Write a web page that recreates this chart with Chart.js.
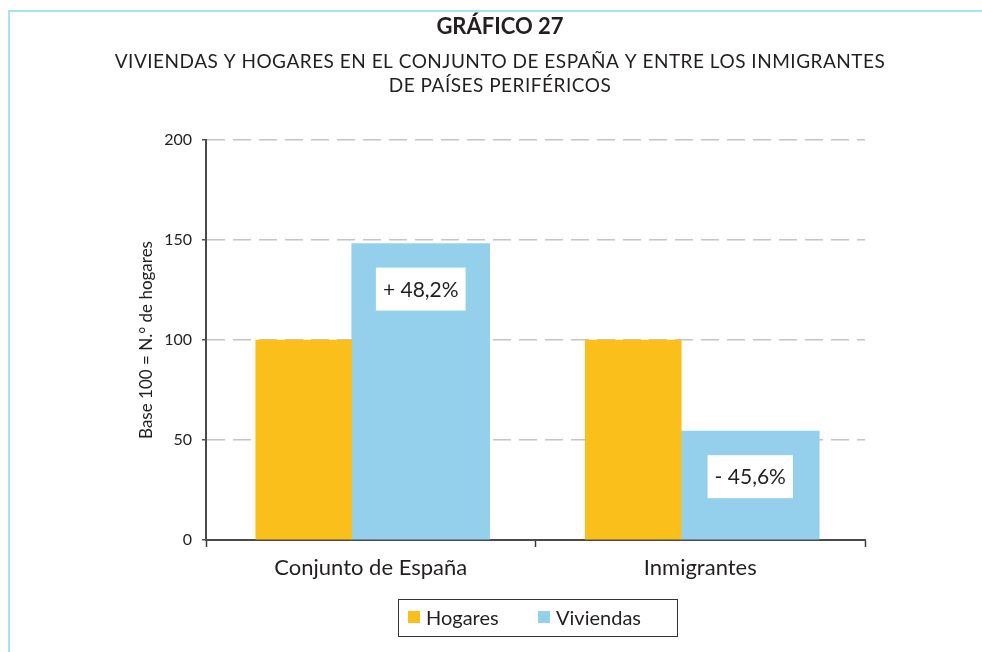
<!DOCTYPE html>
<html>
<head>
<meta charset="utf-8">
<script src="https://cdn.jsdelivr.net/npm/chart.js@4/dist/chart.umd.min.js"></script>
<style>
  html, body { margin: 0; padding: 0; background: #fff; overflow: hidden; }
  #wrap { position: relative; width: 982px; height: 652px; }
  #frame { position: absolute; left: 8px; top: 10px; right: -20px; bottom: -20px;
           border-left: 2px solid #a6e3f5; border-top: 2px solid #a6e3f5; }
  canvas { position: absolute; left: 0; top: 0; }
</style>
</head>
<body>
<div id="wrap">
  <div id="frame"></div>
  <canvas id="chart" width="982" height="652"></canvas>
</div>
<script>
// Data
const categories = ["Conjunto de España", "Inmigrantes"];
const seriesNames = ["Hogares", "Viviendas"];
const hogares = [100, 100];
const viviendas = [148.2, 54.4];
const changeLabels = ["+ 48,2%", "- 45,6%"];
const yTicks = [0, 50, 100, 150, 200];

const titleText = "GRÁFICO 27";
const subtitleLines = [
  "VIVIENDAS Y HOGARES EN EL CONJUNTO DE ESPAÑA Y ENTRE LOS INMIGRANTES",
  "DE PAÍSES PERIFÉRICOS"
];
const yTitle = "Base 100 = N.° de hogares";

const colors = ["#fbbf1b", "#94d0ec"];
const thickness = [96, 138];
const FONT = "Lato, 'Open Sans', sans-serif";
const INK = "#231f20";

// Bars with different widths sit side by side; this centres each pair on its category
const centerGroups = {
  id: "centerGroups",
  afterDatasetsUpdate(chart) {
    const shift = (thickness[0] - thickness[1]) / 2 + 2;
    chart.data.datasets.forEach((ds, i) => {
      chart.getDatasetMeta(i).data.forEach(el => { el.x += shift; });
    });
  }
};

// White boxes with the change percentages, inside the Viviendas bars
const changeBoxes = {
  id: "changeBoxes",
  afterDatasetsDraw(chart) {
    const ctx = chart.ctx;
    const meta = chart.getDatasetMeta(1);
    ctx.save();
    ctx.font = "21px " + FONT;
    meta.data.forEach((bar, i) => {
      const txt = changeLabels[i];
      const w = ctx.measureText(txt).width + 14;
      const h = 43;
      const top = bar.y + 24;
      ctx.fillStyle = "#fff";
      ctx.fillRect(bar.x - w / 2, top, w, h);
      ctx.fillStyle = INK;
      ctx.textAlign = "center";
      ctx.textBaseline = "middle";
      ctx.fillText(txt, bar.x, top + h / 2 + 1);
    });
    ctx.restore();
  }
};

// Headings and boxed legend
const decorations = {
  id: "decorations",
  afterDraw(chart) {
    const ctx = chart.ctx;
    const cx = 500;
    ctx.save();
    ctx.fillStyle = INK;
    ctx.textAlign = "center";
    ctx.textBaseline = "middle";
    ctx.font = "bold 22px " + FONT;
    ctx.fillText(titleText, cx, 27);
    ctx.font = "19px " + FONT;
    ctx.letterSpacing = "0.5px";
    subtitleLines.forEach((line, i) => ctx.fillText(line, cx, 62 + i * 24));
    ctx.letterSpacing = "0px";

    // legend
    const area = chart.chartArea;
    const boxW = 279, boxH = 37;
    const left = (area.left + area.right) / 2 - boxW / 2 + 2;
    const top = 599;
    ctx.strokeStyle = "#333";
    ctx.lineWidth = 1;
    ctx.strokeRect(left + 0.5, top + 0.5, boxW, boxH);
    ctx.font = "20px " + FONT;
    ctx.textAlign = "left";
    seriesNames.forEach((name, i) => {
      const x = left + 10 + i * 130;
      ctx.fillStyle = colors[i];
      ctx.fillRect(x, top + 12, 12, 12);
      ctx.fillStyle = INK;
      ctx.fillText(name, x + 18, top + boxH / 2 + 1);
    });
    ctx.restore();
  }
};

new Chart(document.getElementById("chart"), {
  type: "bar",
  data: {
    labels: categories,
    datasets: seriesNames.map((name, i) => ({
      label: name,
      data: i === 0 ? hogares : viviendas,
      backgroundColor: colors[i],
      barThickness: thickness[i],
      borderWidth: 0
    }))
  },
  options: {
    responsive: false,
    animation: false,
    devicePixelRatio: 1,
    layout: { padding: { left: 0, right: 117, top: 140, bottom: 0 } },
    plugins: {
      legend: { display: false },
      title: { display: false },
      tooltip: { enabled: false }
    },
    scales: {
      x: {
        offset: true,
        grid: {
          display: true,
          offset: true,
          drawOnChartArea: false,
          drawTicks: true,
          tickLength: 7,
          tickColor: "#3a3a3a",
          tickWidth: 1.5
        },
        border: { color: "#4a4a4a", width: 2 },
        ticks: { color: INK, font: { family: FONT, size: 22 }, padding: 8 },
        afterFit(scale) { scale.height = 112; }
      },
      y: {
        min: 0,
        max: 200,
        afterBuildTicks(scale) { scale.ticks = yTicks.map(v => ({ value: v })); },
        grid: {
          color: "#c4c4c4",
          lineWidth: 1.5,
          tickLength: 4,
          tickColor: "#555",
          tickWidth: 1.5,
          tickBorderDash: []
        },
        border: { color: "#4a4a4a", width: 2, dash: [18, 8] },
        ticks: { color: INK, font: { family: FONT, size: 16 }, padding: 10 },
        title: {
          display: true,
          text: yTitle,
          color: INK,
          font: { family: FONT, size: 17 },
          padding: { top: 136, bottom: 0 }
        },
        afterFit(scale) { scale.width = 206; }
      }
    }
  },
  plugins: [centerGroups, changeBoxes, decorations]
});
</script>
</body>
</html>
